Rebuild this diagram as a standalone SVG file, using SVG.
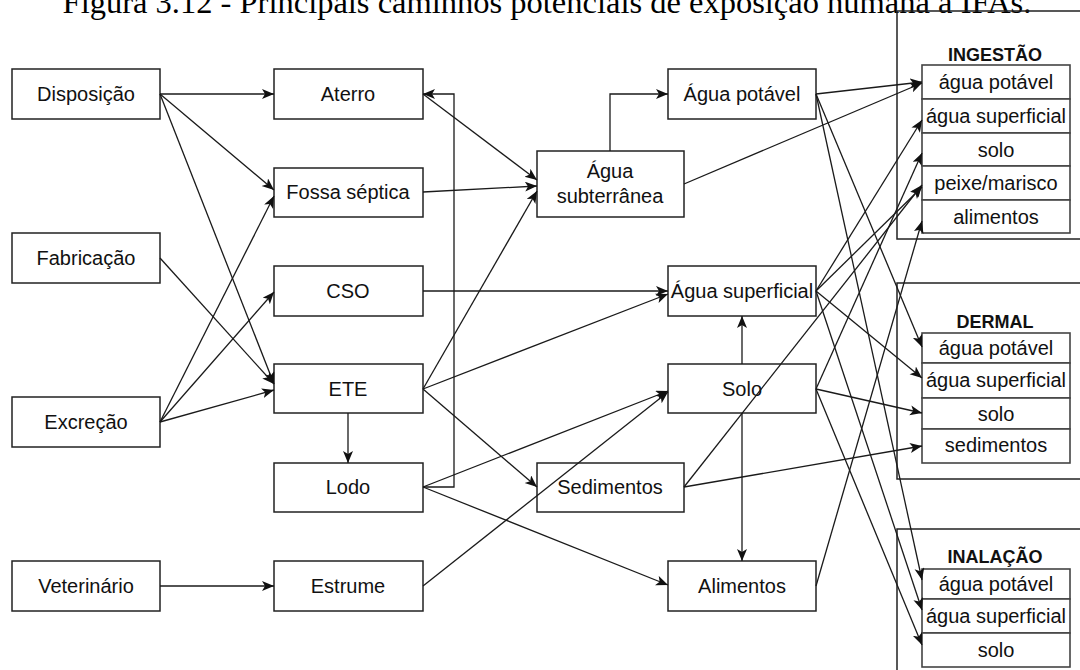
<svg xmlns="http://www.w3.org/2000/svg" width="1080" height="670" viewBox="0 0 1080 670">
<style>
.box{fill:#fff;stroke:#222;stroke-width:1.5}
.panel{fill:none;stroke:#222;stroke-width:1.5}
.cell{fill:#fff;stroke:#444;stroke-width:1.6}
.t{font-family:"Liberation Sans",Arial,sans-serif;font-size:20px;fill:#111;text-anchor:middle}
.h{font-family:"Liberation Sans",Arial,sans-serif;font-size:18px;font-weight:bold;fill:#111;text-anchor:middle}
.e{fill:none;stroke:#1a1a1a;stroke-width:1.3}
.title{font-family:"Liberation Serif","Times New Roman",serif;font-size:32.5px;fill:#000;text-anchor:middle}
</style>
<defs>
<marker id="a" markerUnits="userSpaceOnUse" markerWidth="14" markerHeight="12" refX="12" refY="5" orient="auto">
<path d="M0,0 L12,5 L0,10 L3,5 Z" fill="#111"/>
</marker>
</defs>
<rect width="1080" height="670" fill="#fff"/>
<text class="title" x="547" y="13">Figura 3.12 - Principais caminhos potenciais de exposição humana a IFAs.</text>

<g id="disposicao"><rect class="box" x="12" y="69" width="148" height="50"/><text class="t" x="86" y="101">Disposição</text></g>
<g id="fabricacao"><rect class="box" x="12" y="233" width="148" height="50"/><text class="t" x="86" y="265">Fabricação</text></g>
<g id="excrecao"><rect class="box" x="12" y="397" width="148" height="50"/><text class="t" x="86" y="429">Excreção</text></g>
<g id="veterinario"><rect class="box" x="12" y="561" width="148" height="50"/><text class="t" x="86" y="593">Veterinário</text></g>

<g id="aterro"><rect class="box" x="274" y="69" width="149" height="50"/><text class="t" x="348" y="101">Aterro</text></g>
<g id="fossa"><rect class="box" x="274" y="168" width="149" height="49"/><text class="t" x="348" y="199">Fossa séptica</text></g>
<g id="cso"><rect class="box" x="274" y="266" width="149" height="50"/><text class="t" x="348" y="298">CSO</text></g>
<g id="ete"><rect class="box" x="274" y="364" width="149" height="49"/><text class="t" x="348" y="396">ETE</text></g>
<g id="lodo"><rect class="box" x="274" y="463" width="149" height="49"/><text class="t" x="348" y="494">Lodo</text></g>
<g id="estrume"><rect class="box" x="274" y="561" width="149" height="50"/><text class="t" x="348" y="593">Estrume</text></g>

<g id="agua-subterranea"><rect class="box" x="537" y="151" width="147" height="66"/><text class="t" x="610" y="178">Água</text><text class="t" x="610" y="203">subterrânea</text></g>
<g id="sedimentos"><rect class="box" x="537" y="463" width="147" height="49"/><text class="t" x="610" y="494">Sedimentos</text></g>

<g id="agua-potavel"><rect class="box" x="668" y="69" width="148" height="50"/><text class="t" x="742" y="101">Água potável</text></g>
<g id="agua-superficial"><rect class="box" x="668" y="266" width="148" height="50"/><text class="t" x="742" y="298">Água superficial</text></g>
<g id="solo"><rect class="box" x="668" y="364" width="148" height="49"/><text class="t" x="742" y="396">Solo</text></g>
<g id="alimentos"><rect class="box" x="668" y="561" width="148" height="50"/><text class="t" x="742" y="593">Alimentos</text></g>

<g id="ingestao">
<rect class="panel" x="897" y="11" width="200" height="228"/>
<text class="h" x="995" y="61">INGESTÃO</text>
<rect class="cell" x="922" y="65" width="148" height="34"/><text class="t" x="996" y="89">água potável</text>
<rect class="cell" x="922" y="99" width="148" height="34"/><text class="t" x="996" y="123">água superficial</text>
<rect class="cell" x="922" y="133" width="148" height="33"/><text class="t" x="996" y="157">solo</text>
<rect class="cell" x="922" y="166" width="148" height="34"/><text class="t" x="996" y="190">peixe/marisco</text>
<rect class="cell" x="922" y="200" width="148" height="33"/><text class="t" x="996" y="224">alimentos</text>
</g>
<g id="dermal">
<rect class="panel" x="897" y="283" width="200" height="196"/>
<text class="h" x="995" y="328">DERMAL</text>
<rect class="cell" x="922" y="333" width="148" height="30"/><text class="t" x="996" y="355">água potável</text>
<rect class="cell" x="922" y="363" width="148" height="35"/><text class="t" x="996" y="387">água superficial</text>
<rect class="cell" x="922" y="398" width="148" height="31"/><text class="t" x="996" y="421">solo</text>
<rect class="cell" x="922" y="429" width="148" height="34"/><text class="t" x="996" y="452">sedimentos</text>
</g>
<g id="inalacao">
<rect class="panel" x="897" y="529" width="200" height="200"/>
<text class="h" x="995" y="563">INALAÇÃO</text>
<rect class="cell" x="922" y="569" width="148" height="30"/><text class="t" x="996" y="591">água potável</text>
<rect class="cell" x="922" y="599" width="148" height="34"/><text class="t" x="996" y="623">água superficial</text>
<rect class="cell" x="922" y="633" width="148" height="34"/><text class="t" x="996" y="657">solo</text>
</g>

<g id="connectors" class="e" marker-end="url(#a)">
<path class="e" marker-end="url(#a)" d="M160,94 L274,94"/>
<path class="e" marker-end="url(#a)" d="M160,94 L274,190"/>
<path class="e" marker-end="url(#a)" d="M160,94 L274,384"/>
<path class="e" marker-end="url(#a)" d="M160,258 L274,384"/>
<path class="e" marker-end="url(#a)" d="M160,422 L274,196"/>
<path class="e" marker-end="url(#a)" d="M160,422 L274,292"/>
<path class="e" marker-end="url(#a)" d="M160,422 L274,390"/>
<path class="e" marker-end="url(#a)" d="M160,586 L274,586"/>
<path class="e" marker-end="url(#a)" d="M423,94 L537,180"/>
<path class="e" marker-end="url(#a)" d="M423,192 L537,186"/>
<path class="e" marker-end="url(#a)" d="M423,389 L537,191"/>
<path class="e" marker-end="url(#a)" d="M423,487 L454,487 L454,94 L423,94"/>
<path class="e" marker-end="url(#a)" d="M423,291 L668,291"/>
<path class="e" marker-end="url(#a)" d="M423,389 L668,294"/>
<path class="e" marker-end="url(#a)" d="M423,389 L537,487"/>
<path class="e" marker-end="url(#a)" d="M348,413 L348,463"/>
<path class="e" marker-end="url(#a)" d="M423,487 L668,391"/>
<path class="e" marker-end="url(#a)" d="M423,487 L668,585"/>
<path class="e" marker-end="url(#a)" d="M423,586 L668,392"/>
<path class="e" marker-end="url(#a)" d="M610,151 L610,94 L668,94"/>
<path class="e" marker-end="url(#a)" d="M742,364 L742,316"/>
<path class="e" marker-end="url(#a)" d="M742,413 L742,561"/>
<path class="e" marker-end="url(#a)" d="M684,184 L922,83"/>
<path class="e" marker-end="url(#a)" d="M816,94 L922,82"/>
<path class="e" marker-end="url(#a)" d="M816,94 L922,347"/>
<path class="e" marker-end="url(#a)" d="M816,94 L922,580"/>
<path class="e" marker-end="url(#a)" d="M816,291 L922,120"/>
<path class="e" marker-end="url(#a)" d="M816,291 L922,187"/>
<path class="e" marker-end="url(#a)" d="M816,291 L922,378"/>
<path class="e" marker-end="url(#a)" d="M816,291 L922,610"/>
<path class="e" marker-end="url(#a)" d="M816,389 L922,153"/>
<path class="e" marker-end="url(#a)" d="M816,389 L922,413"/>
<path class="e" marker-end="url(#a)" d="M816,389 L922,645"/>
<path class="e" marker-end="url(#a)" d="M684,487 L922,185"/>
<path class="e" marker-end="url(#a)" d="M684,487 L922,446"/>
<path class="e" marker-end="url(#a)" d="M816,586 L922,221"/>
</g>
</svg>
